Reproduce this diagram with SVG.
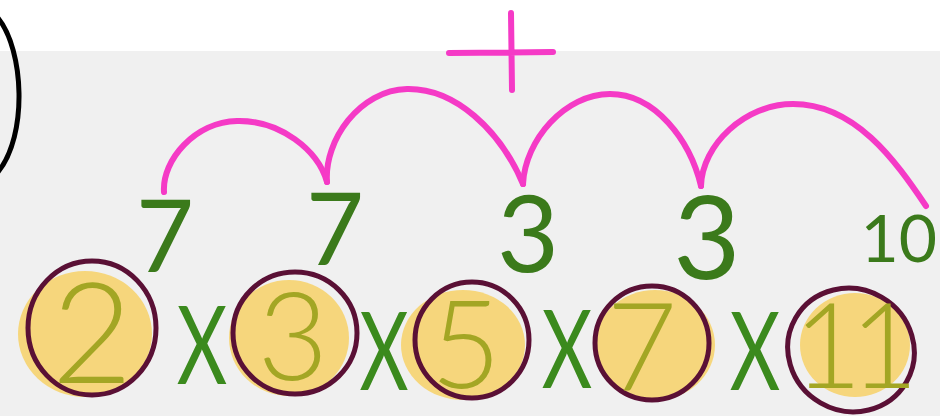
<svg xmlns="http://www.w3.org/2000/svg" width="940" height="416" viewBox="0 0 940 416">
<style>
.ring{fill:none;stroke:#5a1035;stroke-width:5}
.blob{fill:#f6d67c}
.fac{font-family:Lato,"Liberation Sans",Arial,sans-serif;font-weight:300;fill:#a3a624;text-anchor:middle}
.top{font-family:Lato,"Liberation Sans",Arial,sans-serif;font-weight:400;fill:#3b7a1b;text-anchor:middle}
.mul{font-family:Lato,"Liberation Sans",Arial,sans-serif;font-weight:400;fill:#3b8a1d;text-anchor:middle;font-size:108px}
.arc{fill:none;stroke:#f53ac6;stroke-width:6;stroke-linecap:round;stroke-linejoin:round}
</style>
<rect x="0" y="0" width="940" height="416" fill="#ffffff"/>
<rect x="0" y="51" width="940" height="365" fill="#f0f0f0"/>
<path d="M -2 18 C 24 50, 28 135, -2 172" fill="none" stroke="#000" stroke-width="5"/>
<g id="plus">
<path class="arc" d="M 449 53 L 553 52 M 511 13 L 512 90"/>
</g>
<g id="connectors">
<path class="arc" d="M 164 192 C 162 160, 195 122, 237 121 C 280 120, 318 150, 327 182"/>
<path class="arc" d="M 327 182 C 324 140, 360 90, 407 89 C 455 88, 500 130, 523 184"/>
<path class="arc" d="M 523 184 C 525 140, 565 94, 610 94 C 655 94, 690 140, 701 186"/>
<path class="arc" d="M 701 186 C 702 145, 745 104, 793 104 C 855 104, 895 160, 926 206"/>
</g>
<g id="sums">
<text class="top" x="165" y="272" font-size="100">7</text>
<text class="top" x="335" y="265" font-size="100">7</text>
<text class="top" x="528" y="272" font-size="107">3</text>
<text class="top" x="707" y="279" font-size="116">3</text>
<text class="top" x="937" y="262" font-size="66" style="text-anchor:end">10</text>
</g>
<g id="f2">
<ellipse class="blob" cx="85" cy="334" rx="67" ry="63"/>
<ellipse class="ring" cx="92" cy="328" rx="64" ry="67"/>
<text class="fac" x="92" y="383" font-size="140">2</text>
</g>
<g id="f3">
<ellipse class="blob" cx="289" cy="338" rx="60" ry="58"/>
<ellipse class="ring" cx="295" cy="333" rx="62" ry="61"/>
<text class="fac" x="293" y="380" font-size="122">3</text>
</g>
<g id="f5">
<ellipse class="blob" cx="463" cy="345" rx="62" ry="55"/>
<ellipse class="ring" cx="472" cy="340" rx="57" ry="58"/>
<text class="fac" x="466" y="388" font-size="122">5</text>
</g>
<g id="f7">
<ellipse class="blob" cx="655" cy="345" rx="60" ry="55"/>
<ellipse class="ring" cx="652" cy="343" rx="57" ry="57"/>
<text class="fac" x="642" y="390" font-size="122">7</text>
</g>
<g id="f11">
<ellipse class="blob" cx="855" cy="345" rx="55" ry="52"/>
<ellipse class="ring" cx="851" cy="350" rx="64" ry="61" transform="rotate(30 851 350)"/>
<text class="fac" x="850" y="388" font-size="118" letter-spacing="-12">11</text>
</g>
<g id="times">
<text class="mul" transform="translate(202 384) scale(0.72 1)">X</text>
<text class="mul" transform="translate(384 390) scale(0.7 1)">X</text>
<text class="mul" transform="translate(567 388) scale(0.72 1)">X</text>
<text class="mul" transform="translate(755 390) scale(0.72 1)">X</text>
</g>
</svg>
